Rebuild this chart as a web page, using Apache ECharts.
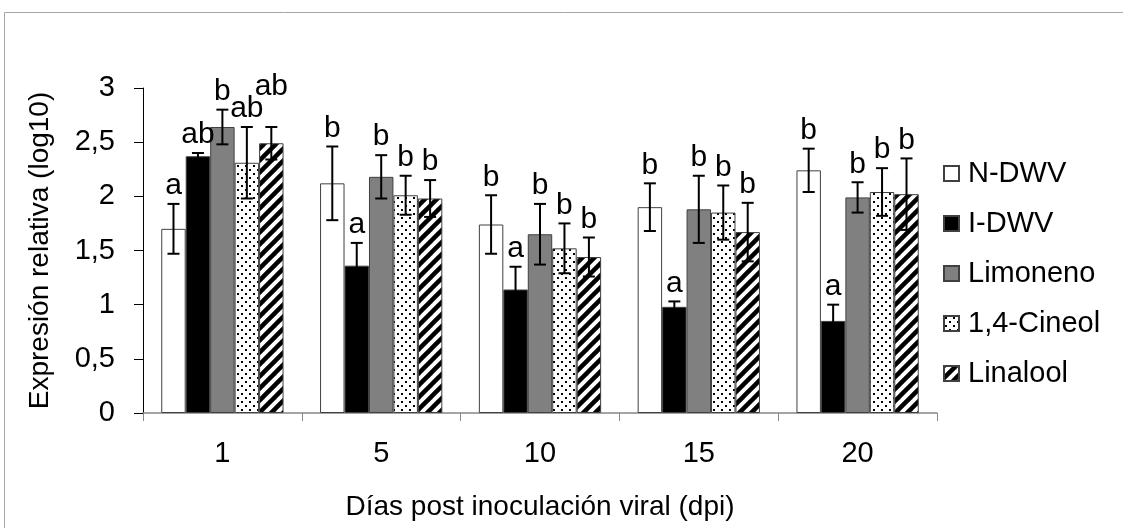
<!DOCTYPE html>
<html>
<head>
<meta charset="utf-8">
<script src="https://cdn.jsdelivr.net/npm/echarts@6/dist/echarts.min.js"></script>
<style>
  html, body { margin: 0; padding: 0; background: #fff; }
  #tubiao { width: 1123px; height: 528px; }
</style>
</head>
<body>
<div id="tubiao"></div>
<script>
// categorias (dias post inoculacion)
var categories = ['1', '5', '10', '15', '20'];
var seriesNames = ['N-DWV', 'I-DWV', 'Limoneno', '1,4-Cineol', 'Linalool'];

// medias
var nDwv     = [1.70, 2.12, 1.74, 1.90, 2.24];
var iDwv     = [2.37, 1.36, 1.14, 0.98, 0.85];
var limoneno = [2.64, 2.18, 1.65, 1.88, 1.99];
var cineol   = [2.31, 2.01, 1.52, 1.85, 2.04];
var linalool = [2.49, 1.98, 1.44, 1.67, 2.02];

// error estandar
var nDwvErr     = [0.23, 0.34, 0.27, 0.22, 0.20];
var iDwvErr     = [0.03, 0.21, 0.21, 0.05, 0.15];
var limonenoErr = [0.16, 0.20, 0.28, 0.31, 0.14];
var cineolErr   = [0.33, 0.18, 0.23, 0.25, 0.22];
var linaloolErr = [0.15, 0.17, 0.18, 0.27, 0.33];

// letras de significancia
var nDwvSig     = ['a', 'b', 'b', 'b', 'b'];
var iDwvSig     = ['ab', 'a', 'a', 'a', 'a'];
var limonenoSig = ['b', 'b', 'b', 'b', 'b'];
var cineolSig   = ['ab', 'b', 'b', 'b', 'b'];
var linaloolSig = ['ab', 'b', 'b', 'b', 'b'];

var yTicks = [0, 0.5, 1, 1.5, 2, 2.5, 3];

var means = [nDwv, iDwv, limoneno, cineol, linalool];
var errs = [nDwvErr, iDwvErr, limonenoErr, cineolErr, linaloolErr];
var sigs = [nDwvSig, iDwvSig, limonenoSig, cineolSig, linaloolSig];

var FONT = '"Liberation Sans", Arial, sans-serif';
var FS = 29;
var catGap = 0.23;

// tramas
function dotPattern() {
  var c = document.createElement('canvas');
  c.width = 8; c.height = 8;
  var g = c.getContext('2d');
  g.fillStyle = '#fff'; g.fillRect(0, 0, 8, 8);
  g.fillStyle = '#000';
  g.fillRect(1, 1, 2, 2);
  g.fillRect(5, 5, 2, 2);
  return c;
}
function hatchPattern() {
  var c = document.createElement('canvas');
  c.width = 12; c.height = 12;
  var g = c.getContext('2d');
  g.fillStyle = '#fff'; g.fillRect(0, 0, 12, 12);
  g.strokeStyle = '#000'; g.lineWidth = 4.5;
  for (var k = -1; k <= 1; k++) {
    g.beginPath();
    g.moveTo(k * 12 - 2, 14);
    g.lineTo(k * 12 + 14, -2);
    g.stroke();
  }
  return c;
}

var fills = [
  '#ffffff',
  '#000000',
  '#808080',
  { image: dotPattern(), repeat: 'repeat' },
  { image: hatchPattern(), repeat: 'repeat' }
];

var myChart = echarts.init(document.getElementById('tubiao'));

var barSeries = seriesNames.map(function (name, k) {
  return {
    name: name,
    type: 'bar',
    data: means[k],
    barGap: '0%',
    barCategoryGap: (catGap * 100) + '%',
    itemStyle: { color: fills[k], borderColor: '#404040', borderWidth: 1 },
    emphasis: { disabled: true }
  };
});

function renderErr(params, api) {
  var j = api.value(0);
  var band = api.size([1, 0])[0];
  var bw = band * (1 - catGap) / 5;
  var center = api.coord([j, 0])[0];
  var children = [];
  var prev = null;
  for (var k = 0; k < 5; k++) {
    var x = center + (k - 2) * bw;
    var v = means[k][j], e = errs[k][j];
    var yt = api.coord([j, v + e])[1];
    var yb = api.coord([j, v - e])[1];
    children.push({ type: 'line', shape: { x1: x, y1: yt, x2: x, y2: yb }, style: { stroke: '#000', lineWidth: 2 } });
    children.push({ type: 'line', shape: { x1: x - 6, y1: yt, x2: x + 6, y2: yt }, style: { stroke: '#000', lineWidth: 2 } });
    children.push({ type: 'line', shape: { x1: x - 6, y1: yb, x2: x + 6, y2: yb }, style: { stroke: '#000', lineWidth: 2 } });
    // etiqueta, se sube si choca con la anterior
    var txt = sigs[k][j];
    var w = txt.length * 0.56 * FS;
    var ly = yt - 3;
    if (prev && Math.abs(x - prev.x) < (w + prev.w) / 2 && Math.abs(ly - prev.y) < FS * 0.8) {
      ly = prev.y - FS * 0.78;
    }
    prev = { x: x, y: ly, w: w };
    children.push({
      type: 'text',
      style: { text: txt, x: x, y: ly, align: 'center', verticalAlign: 'bottom', fontSize: FS + 1, fontFamily: FONT, fill: '#000' }
    });
  }
  return { type: 'group', children: children };
}

var option = {
  animation: false,
  textStyle: { fontFamily: FONT },
  graphic: [{
    type: 'rect', z: -10,
    shape: { x: 4.5, y: 12.5, width: 1200, height: 600 },
    style: { fill: 'none', stroke: '#a6a6a6', lineWidth: 1 }
  }],
  legend: {
    orient: 'vertical',
    left: 938,
    top: 154,
    itemWidth: 15,
    itemHeight: 15,
    itemGap: 21,
    icon: 'rect',
    data: seriesNames,
    textStyle: { fontSize: FS, fontFamily: FONT, color: '#000', padding: [0, 0, 0, 4] }
  },
  grid: {
    left: 143, right: 186, top: 88, bottom: 115,
    containLabel: false, outerBoundsMode: 'none'
  },
  xAxis: {
    type: 'category',
    data: categories,
    name: 'Días post inoculación viral (dpi)',
    nameLocation: 'middle',
    nameGap: 80,
    nameTextStyle: { fontSize: 28, fontFamily: FONT, color: '#000' },
    axisLine: { lineStyle: { color: '#868686', width: 1.5 } },
    axisTick: { show: true, length: 8, lineStyle: { color: '#868686' } },
    axisLabel: { fontSize: FS, fontFamily: FONT, color: '#000', margin: 26 }
  },
  yAxis: {
    type: 'value',
    min: yTicks[0],
    max: yTicks[yTicks.length - 1],
    interval: yTicks[1] - yTicks[0],
    name: 'Expresión relativa (log10)',
    nameLocation: 'middle',
    nameGap: 89,
    nameRotate: 90,
    nameTextStyle: { fontSize: 28, fontFamily: FONT, color: '#000' },
    axisLine: { show: true, lineStyle: { color: '#000', width: 1 } },
    axisTick: { show: true, length: 9, lineStyle: { color: '#000' } },
    splitLine: { show: false },
    axisLabel: {
      fontSize: FS, fontFamily: FONT, color: '#000', margin: 28,
      formatter: function (v) { return String(v).replace('.', ','); }
    }
  },
  series: barSeries.concat([{
    name: 'err',
    type: 'custom',
    z: 10,
    renderItem: renderErr,
    data: categories.map(function (c, i) { return [i]; }),
    silent: true
  }])
};

myChart.setOption(option);
</script>
</body>
</html>
